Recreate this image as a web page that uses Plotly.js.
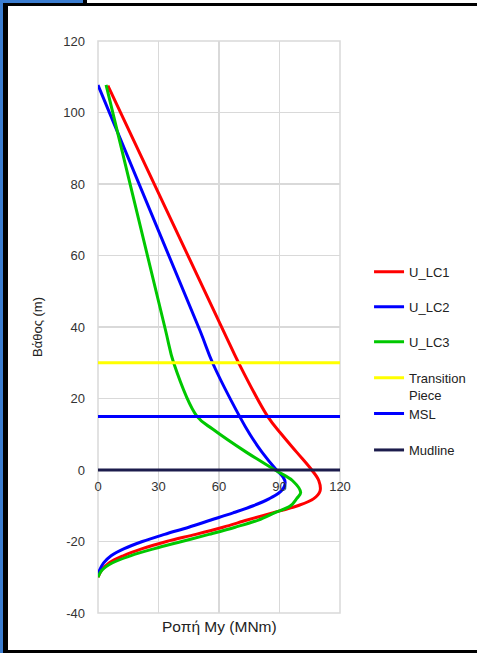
<!DOCTYPE html>
<html>
<head>
<meta charset="utf-8">
<script src="https://cdn.plot.ly/plotly-3.0.1.min.js"></script>
<style>
  html, body { margin: 0; padding: 0; background: #ffffff; overflow: hidden; }
  #wrap { position: relative; width: 477px; height: 653px; background: #ffffff; }
  #chart { position: absolute; left: 0; top: 0; width: 477px; height: 653px; }
  .deco { position: absolute; pointer-events: none; }
</style>
</head>
<body>
<div id="wrap">
  <div id="chart"></div>
  <div class="deco" style="left:0;top:0;width:84px;height:4px;background:#3b7dd0;"></div>
  <div class="deco" style="left:0;top:0;width:3px;height:653px;background:#3b7dd0;"></div>
  <div class="deco" style="left:83px;top:0;width:4px;height:4px;background:#000;"></div>
  <div class="deco" style="left:3px;top:3px;width:5px;height:650px;background:#000;"></div>
  <div class="deco" style="left:3px;top:3px;width:474px;height:3px;background:#000;"></div>
  <div class="deco" style="left:3px;top:650px;width:474px;height:3px;background:#000;"></div>
</div>
<script>
// ---- data (depth in m, moment in MNm) ----
const depthLC1  = [107.5, 38.8, 30, 15, 10, 5, 0, -3, -5.9, -8, -10, -12, -14, -16, -18, -20, -22, -24, -26, -28, -30];
const momentLC1 = [4.9, 62.3, 69.7, 84.1, 91, 98.5, 106, 109.5, 110.1, 107, 99, 86.5, 74, 62, 48.5, 34, 22, 12.5, 5.5, 1.8, 0];

const depthLC2  = [107.7, 38.8, 30, 15, 10, 5, 0, -2, -3.5, -5, -6.5, -8, -10, -12, -14, -16, -18, -20, -22, -24, -26, -28, -29.5];
const momentLC2 = [0, 50.7, 56.8, 70.2, 75.3, 81.3, 88.5, 91.8, 92.8, 92, 89.5, 85, 77, 67, 56, 45, 33, 22, 13, 6.5, 2.8, 0.8, 0];

const depthLC3  = [107.7, 39.3, 30, 15, 11.4, 5, 0, -3, -6.3, -8, -10, -12, -14, -16, -18, -20, -22, -24, -26, -28, -30];
const momentLC3 = [4.0, 33.4, 37.5, 49.1, 57, 73.5, 87.8, 96.5, 100.5, 98.5, 95.5, 87.5, 79.5, 68, 55, 41.5, 28, 16.1, 7, 2, 0];

const xRange = [0, 120];
const levelTP = 30, levelMSL = 15, levelMud = 0;

const xTicks = [0, 30, 60, 90, 120];
const yTicks = [-40, -20, 0, 20, 40, 60, 80, 100, 120];

const names = ["U_LC1", "U_LC2", "U_LC3", "Transition<br>Piece", "MSL", "Mudline"];
const colors = ["#ff0000", "#0000ff", "#00c800", "#ffff00", "#0000ff", "#1c1c4c"];

const xTitle = "Ροπή My (MNm)";
const yTitle = "Βάθος (m)";

// ---- traces ----
const legendIds = ["legend", "legend2", "legend3", "legend4", "legend5", "legend6"];
function curve(x, y, i) {
  return { x: x, y: y, type: "scatter", mode: "lines", name: names[i],
           legend: legendIds[i],
           line: { color: colors[i], width: 3, shape: "spline", smoothing: 1 } };
}
function level(yv, i) {
  return { x: xRange, y: [yv, yv], type: "scatter", mode: "lines", name: names[i],
           legend: legendIds[i],
           line: { color: colors[i], width: 3 } };
}

const data = [
  curve(momentLC1, depthLC1, 0),
  curve(momentLC2, depthLC2, 1),
  curve(momentLC3, depthLC3, 2),
  level(levelTP, 3),
  level(levelMSL, 4),
  level(levelMud, 5)
];

const baseFont = "Liberation Sans, Arial, sans-serif";
const tickFont = { family: baseFont, size: 13, color: "#333333" };
const legendYs = [0.6229, 0.5617, 0.5005, 0.4376, 0.3747, 0.3112];

const layout = {
  width: 477, height: 653,
  margin: { l: 97.5, r: 137, t: 41, b: 40, autoexpand: false },
  paper_bgcolor: "rgba(0,0,0,0)",
  plot_bgcolor: "#ffffff",
  showlegend: true,
  xaxis: {
    range: xRange, tickvals: xTicks, ticktext: xTicks.map(String),
    anchor: "free", position: 0.25, automargin: false,
    showgrid: true, gridcolor: "#d9d9d9", gridwidth: 1.5,
    zeroline: false, showline: false, ticks: "",
    tickfont: tickFont, ticklabelstandoff: 7
  },
  yaxis: {
    range: [-40, 120], tickvals: yTicks, ticktext: yTicks.map(String),
    automargin: false,
    showgrid: true, gridcolor: "#d9d9d9", gridwidth: 1.5,
    zeroline: false, showline: false, ticks: "",
    tickfont: tickFont, ticklabelstandoff: 12,
    title: { text: yTitle, font: { family: baseFont, size: 13, color: "#222222" }, standoff: 17 }
  },
  shapes: [
    { type: "rect", xref: "paper", yref: "paper", x0: 0, x1: 1, y0: 0, y1: 1,
      line: { color: "#d9d9d9", width: 1.5 }, layer: "below" }
  ],
  annotations: [
    { text: xTitle, xref: "paper", yref: "paper", x: 0.5, y: 0, yshift: -13,
      xanchor: "center", yanchor: "middle", showarrow: false,
      font: { family: baseFont, size: 15.5, color: "#222222" } }
  ]
};

legendIds.forEach(function (id, i) {
  layout[id] = {
    x: 1.12, xanchor: "left", xref: "paper",
    y: legendYs[i], yanchor: "top", valign: "top",
    font: { family: baseFont, size: 13, color: "#222222" },
    bgcolor: "rgba(0,0,0,0)"
  };
});

Plotly.newPlot("chart", data, layout, { displayModeBar: false, staticPlot: true });
</script>
</body>
</html>
